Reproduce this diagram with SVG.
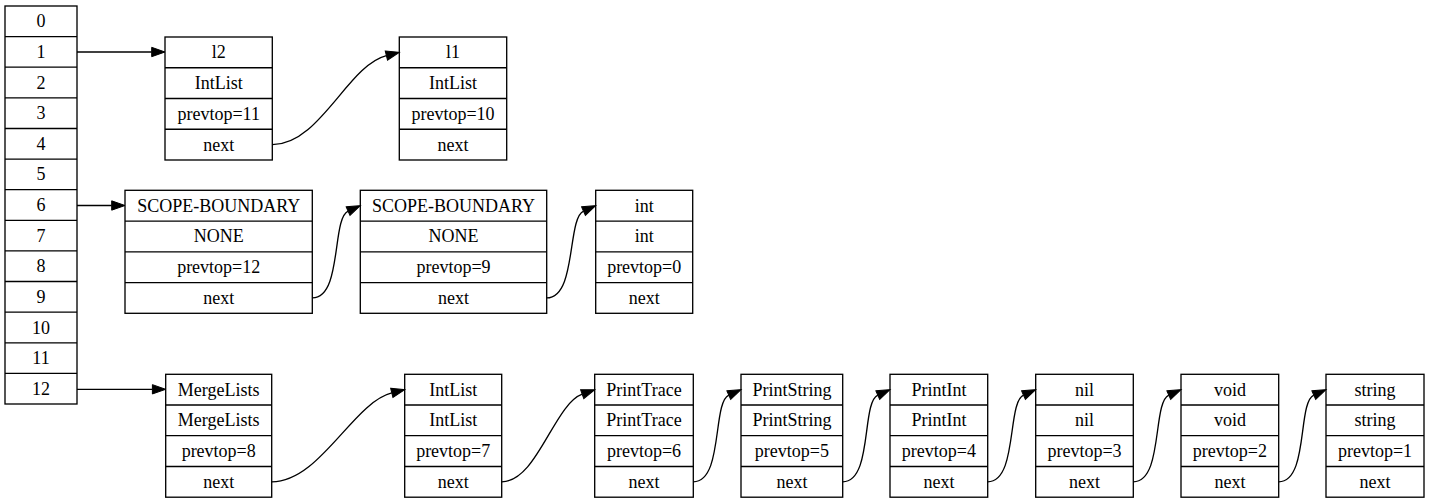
<svg xmlns="http://www.w3.org/2000/svg" width="1429" height="503" viewBox="0 0 1429 503">
<style>
.bx{fill:#fff;stroke:#000;stroke-width:1.33}
.dv{stroke:#000;stroke-width:1.33}
text{font-family:"Liberation Serif","Times New Roman",serif;font-size:18px;fill:#000;text-anchor:middle}
.e{fill:none;stroke:#000;stroke-width:1.33;marker-end:url(#ah)}
</style>
<defs>
<marker id="ah" markerUnits="userSpaceOnUse" markerWidth="14" markerHeight="10" refX="0" refY="5" orient="auto" viewBox="0 0 14 10" overflow="visible">
<path d="M0,0.33 L13.3,5 L0,9.67 z" fill="#000" stroke="#000" stroke-width="1"/>
</marker>
</defs>
<rect width="1429" height="503" fill="#fff"/>

<g id="array">
<rect class="bx" x="5" y="6" width="72" height="398"/>
<path class="dv" d="M5,36.6H77M5,67.2H77M5,97.8H77M5,128.5H77M5,159.1H77M5,189.7H77M5,220.3H77M5,250.9H77M5,281.5H77M5,312.2H77M5,342.8H77M5,373.4H77"/>
<text x="41" y="27.3">0</text>
<text x="41" y="57.9">1</text>
<text x="41" y="88.5">2</text>
<text x="41" y="119.1">3</text>
<text x="41" y="149.7">4</text>
<text x="41" y="180.4">5</text>
<text x="41" y="211">6</text>
<text x="41" y="241.6">7</text>
<text x="41" y="272.2">8</text>
<text x="41" y="302.8">9</text>
<text x="41" y="333.5">10</text>
<text x="41" y="364.1">11</text>
<text x="41" y="394.7">12</text>
</g>

<g id="n_l2">
<rect class="bx" x="165" y="37" width="107.3" height="123"/>
<path class="dv" d="M165,67.75H272.3M165,98.5H272.3M165,129.25H272.3"/>
<text x="218.7" y="58.4">l2</text>
<text x="218.7" y="89.1">IntList</text>
<text x="218.7" y="119.9">prevtop=11</text>
<text x="218.7" y="150.6">next</text>
</g>

<g id="n_l1">
<rect class="bx" x="399.3" y="37" width="107.4" height="123"/>
<path class="dv" d="M399.3,67.75H506.7M399.3,98.5H506.7M399.3,129.25H506.7"/>
<text x="453" y="58.4">l1</text>
<text x="453" y="89.1">IntList</text>
<text x="453" y="119.9">prevtop=10</text>
<text x="453" y="150.6">next</text>
</g>

<g id="n_scope1">
<rect class="bx" x="125" y="190.3" width="187.3" height="123"/>
<path class="dv" d="M125,221.05H312.3M125,251.8H312.3M125,282.55H312.3"/>
<text x="218.7" y="211.7">SCOPE-BOUNDARY</text>
<text x="218.7" y="242.4">NONE</text>
<text x="218.7" y="273.2">prevtop=12</text>
<text x="218.7" y="303.9">next</text>
</g>

<g id="n_scope2">
<rect class="bx" x="360.3" y="190.3" width="186.4" height="123"/>
<path class="dv" d="M360.3,221.05H546.7M360.3,251.8H546.7M360.3,282.55H546.7"/>
<text x="453.5" y="211.7">SCOPE-BOUNDARY</text>
<text x="453.5" y="242.4">NONE</text>
<text x="453.5" y="273.2">prevtop=9</text>
<text x="453.5" y="303.9">next</text>
</g>

<g id="n_int">
<rect class="bx" x="595.7" y="190.3" width="97" height="123"/>
<path class="dv" d="M595.7,221.05H692.7M595.7,251.8H692.7M595.7,282.55H692.7"/>
<text x="644.2" y="211.7">int</text>
<text x="644.2" y="242.4">int</text>
<text x="644.2" y="273.2">prevtop=0</text>
<text x="644.2" y="303.9">next</text>
</g>

<g id="n_MergeLists">
<rect class="bx" x="165.7" y="374.3" width="106" height="122.9"/>
<path class="dv" d="M165.7,405H271.7M165.7,435.7H271.7M165.7,466.5H271.7"/>
<text x="218.7" y="395.7">MergeLists</text>
<text x="218.7" y="426.4">MergeLists</text>
<text x="218.7" y="457.1">prevtop=8</text>
<text x="218.7" y="487.8">next</text>
</g>

<g id="n_IntList">
<rect class="bx" x="404.7" y="374.3" width="97" height="122.9"/>
<path class="dv" d="M404.7,405H501.7M404.7,435.7H501.7M404.7,466.5H501.7"/>
<text x="453.2" y="395.7">IntList</text>
<text x="453.2" y="426.4">IntList</text>
<text x="453.2" y="457.1">prevtop=7</text>
<text x="453.2" y="487.8">next</text>
</g>

<g id="n_PrintTrace">
<rect class="bx" x="594.7" y="374.3" width="98.6" height="122.9"/>
<path class="dv" d="M594.7,405H693.3M594.7,435.7H693.3M594.7,466.5H693.3"/>
<text x="644" y="395.7">PrintTrace</text>
<text x="644" y="426.4">PrintTrace</text>
<text x="644" y="457.1">prevtop=6</text>
<text x="644" y="487.8">next</text>
</g>

<g id="n_PrintString">
<rect class="bx" x="741" y="374.3" width="101.7" height="122.9"/>
<path class="dv" d="M741,405H842.7M741,435.7H842.7M741,466.5H842.7"/>
<text x="791.9" y="395.7">PrintString</text>
<text x="791.9" y="426.4">PrintString</text>
<text x="791.9" y="457.1">prevtop=5</text>
<text x="791.9" y="487.8">next</text>
</g>

<g id="n_PrintInt">
<rect class="bx" x="890" y="374.3" width="97.7" height="122.9"/>
<path class="dv" d="M890,405H987.7M890,435.7H987.7M890,466.5H987.7"/>
<text x="938.9" y="395.7">PrintInt</text>
<text x="938.9" y="426.4">PrintInt</text>
<text x="938.9" y="457.1">prevtop=4</text>
<text x="938.9" y="487.8">next</text>
</g>

<g id="n_nil">
<rect class="bx" x="1035.7" y="374.3" width="97.6" height="122.9"/>
<path class="dv" d="M1035.7,405H1133.3M1035.7,435.7H1133.3M1035.7,466.5H1133.3"/>
<text x="1084.5" y="395.7">nil</text>
<text x="1084.5" y="426.4">nil</text>
<text x="1084.5" y="457.1">prevtop=3</text>
<text x="1084.5" y="487.8">next</text>
</g>

<g id="n_void">
<rect class="bx" x="1181" y="374.3" width="97.7" height="122.9"/>
<path class="dv" d="M1181,405H1278.7M1181,435.7H1278.7M1181,466.5H1278.7"/>
<text x="1229.9" y="395.7">void</text>
<text x="1229.9" y="426.4">void</text>
<text x="1229.9" y="457.1">prevtop=2</text>
<text x="1229.9" y="487.8">next</text>
</g>

<g id="n_string">
<rect class="bx" x="1326" y="374.3" width="98" height="122.9"/>
<path class="dv" d="M1326,405H1424M1326,435.7H1424M1326,466.5H1424"/>
<text x="1375" y="395.7">string</text>
<text x="1375" y="426.4">string</text>
<text x="1375" y="457.1">prevtop=1</text>
<text x="1375" y="487.8">next</text>
</g>

<g id="connectors">
<path class="e" d="M77,52 L151.7,52"/>
<path class="e" d="M272.3,144.6 C320,144.6 347.6,65.3 386.4,55.6"/>
<path class="e" d="M77,205.5 L111.7,205.5"/>
<path class="e" d="M312.3,297.9 C342.3,297.9 331.6,218.4 348.1,211.1"/>
<path class="e" d="M546.7,297.9 C576.7,297.9 567,218.4 583.5,211.1"/>
<path class="e" d="M77,389.3 L152.4,389.3"/>
<path class="e" d="M271.7,481.8 C320,481.8 352.9,402.6 391.8,392.9"/>
<path class="e" d="M501.7,481.8 C537,481.8 554,404.4 582.2,394.2"/>
<path class="e" d="M693.3,481.8 C723.3,481.8 712.3,402.4 728.8,395.1"/>
<path class="e" d="M842.7,481.8 C872.7,481.8 861.3,402.4 877.8,395.1"/>
<path class="e" d="M987.7,481.8 C1017.7,481.8 1007,402.4 1023.5,395.1"/>
<path class="e" d="M1133.3,481.8 C1163.3,481.8 1152.3,402.4 1168.8,395.1"/>
<path class="e" d="M1278.7,481.8 C1308.7,481.8 1297.3,402.4 1313.8,395.1"/>
</g>
</svg>
